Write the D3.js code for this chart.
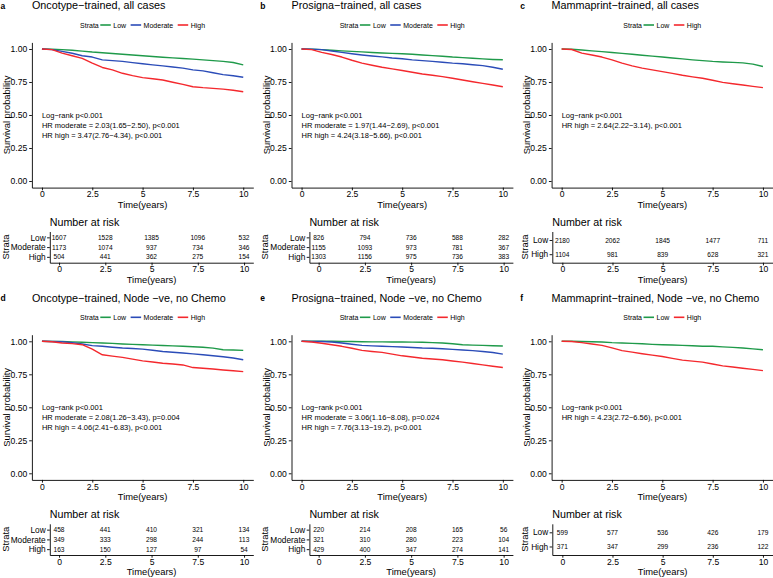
<!DOCTYPE html>
<html><head><meta charset="utf-8">
<script src="https://cdn.jsdelivr.net/npm/d3@7"></script>
<style>
body{margin:0;background:#fff}
svg{display:block}
text{font-family:"Liberation Sans",Arial,Helvetica,sans-serif;fill:#000}
</style>
</head><body>
<svg id="chart" width="773" height="578"></svg>
<script>
// ---------------- DATA ----------------
const times = [0,0.5,1,1.5,2,2.5,3,3.5,4,4.5,5,5.5,6,6.5,7,7.5,8,8.5,9,9.5,10];
const xTicks = [0,2.5,5,7.5,10];
const yTicks = [0,0.25,0.5,0.75,1];

const titles = [
  "Oncotype\u2212trained, all cases",
  "Prosigna\u2212trained, all cases",
  "Mammaprint\u2212trained, all cases",
  "Oncotype\u2212trained, Node \u2212ve, no Chemo",
  "Prosigna\u2212trained, Node \u2212ve, no Chemo",
  "Mammaprint\u2212trained, Node \u2212ve, no Chemo"
];
const letters = ["a","b","c","d","e","f"];

// survival curves
const aLow  = [1,.998,.995,.99,.984,.977,.972,.966,.96,.954,.949,.943,.938,.933,.928,.923,.918,.912,.906,.898,.88];
const aMod  = [1,.995,.982,.968,.949,.939,.918,.912,.906,.897,.888,.88,.872,.864,.855,.842,.834,.82,.806,.797,.786];
const aHigh = [1,.995,.969,.949,.929,.893,.86,.842,.816,.798,.783,.775,.765,.748,.732,.714,.707,.702,.696,.688,.676];

const bLow  = [1,.999,.995,.99,.986,.982,.978,.974,.97,.967,.964,.96,.955,.95,.945,.939,.935,.93,.925,.921,.918];
const bMod  = [1,.999,.995,.985,.974,.964,.955,.947,.94,.932,.926,.918,.912,.906,.9,.893,.888,.881,.874,.862,.847];
const bHigh = [1,.995,.974,.958,.939,.915,.893,.877,.862,.849,.837,.824,.811,.801,.791,.778,.765,.752,.74,.727,.714];

const cLow  = [1,.998,.992,.986,.98,.974,.967,.96,.953,.946,.939,.932,.925,.918,.912,.906,.902,.899,.895,.885,.867];
const cHigh = [1,.996,.969,.955,.939,.918,.893,.872,.855,.842,.829,.815,.801,.789,.778,.763,.747,.737,.727,.717,.707];

const dLow  = [1,.999,.998,.996,.993,.99,.987,.984,.98,.977,.974,.971,.968,.965,.962,.959,.955,.948,.936,.934,.931];
const dMod  = [1,.999,.997,.99,.98,.967,.962,.955,.949,.945,.941,.932,.923,.917,.911,.905,.898,.891,.883,.873,.86];
const dHigh = [1,.997,.987,.982,.974,.94,.898,.888,.878,.865,.852,.843,.834,.828,.821,.801,.796,.79,.783,.777,.77];

const eLow  = [1,1,1,1,.999,.998,.997,.996,.996,.995,.995,.994,.993,.99,.987,.981,.974,.971,.969,.966,.964];
const eMod  = [1,.999,.998,.995,.987,.978,.969,.965,.962,.96,.957,.953,.949,.947,.944,.939,.934,.929,.923,.915,.903];
const eHigh = [1,.995,.985,.974,.962,.947,.931,.923,.916,.903,.89,.881,.872,.866,.86,.851,.842,.832,.821,.811,.801];

const fLow  = [1,1,.999,.997,.995,.99,.987,.984,.981,.977,.974,.972,.969,.966,.963,.962,.958,.954,.949,.943,.936];
const fHigh = [1,.998,.99,.98,.969,.95,.929,.918,.906,.895,.885,.871,.857,.85,.842,.828,.814,.805,.796,.787,.778];

// numbers at risk at xTicks
const riskA = {Low:[1607,1528,1385,1096,532], Moderate:[1173,1074,937,734,346], High:[504,441,362,275,154]};
const riskB = {Low:[826,794,736,588,282],     Moderate:[1155,1093,973,781,367], High:[1303,1156,975,736,383]};
const riskC = {Low:[2180,2062,1845,1477,711], High:[1104,981,839,628,321]};
const riskD = {Low:[458,441,410,321,134],     Moderate:[349,333,298,244,113],   High:[163,150,127,97,54]};
const riskE = {Low:[220,214,208,165,56],      Moderate:[321,310,280,223,104],   High:[429,400,347,274,141]};
const riskF = {Low:[599,577,536,426,179],     High:[371,347,299,236,122]};

const notes = [
  ["Log\u2212rank p<0.001","HR moderate = 2.03(1.65\u22122.50), p<0.001","HR high = 3.47(2.76\u22124.34), p<0.001"],
  ["Log\u2212rank p<0.001","HR moderate = 1.97(1.44\u22122.69), p<0.001","HR high = 4.24(3.18\u22125.66), p<0.001"],
  ["Log\u2212rank p<0.001","HR high = 2.64(2.22\u22123.14), p<0.001"],
  ["Log\u2212rank p<0.001","HR moderate = 2.08(1.26\u22123.43), p=0.004","HR high = 4.06(2.41\u22126.83), p<0.001"],
  ["Log\u2212rank p<0.001","HR moderate = 3.06(1.16\u22128.08), p=0.024","HR high = 7.76(3.13\u221219.2), p<0.001"],
  ["Log\u2212rank p<0.001","HR high = 4.23(2.72\u22126.56), p<0.001"]
];

const colors = {Low:"#1f9a4a", Moderate:"#2b4cb8", High:"#f4282d"};

const panels = [
  {curves:{Low:aLow,Moderate:aMod,High:aHigh}, risk:riskA},
  {curves:{Low:bLow,Moderate:bMod,High:bHigh}, risk:riskB},
  {curves:{Low:cLow,High:cHigh}, risk:riskC},
  {curves:{Low:dLow,Moderate:dMod,High:dHigh}, risk:riskD},
  {curves:{Low:eLow,Moderate:eMod,High:eHigh}, risk:riskE},
  {curves:{Low:fLow,High:fHigh}, risk:riskF}
];

// ---------------- DRAW ----------------
const svg = d3.select("#chart");
const originX = [0, 259.6, 519.7];
const originY = [0, 292.3];

function styleAxis(g, fs){
  g.select(".domain").attr("stroke","#000").attr("stroke-width",0.9);
  g.selectAll(".tick line").attr("stroke","#000").attr("stroke-width",0.9);
  g.selectAll(".tick text").attr("font-size",fs).attr("fill","#000")
    .style("font-family",'"Liberation Sans",Arial,sans-serif');
}

panels.forEach((p,i)=>{
  const col = i%3, row = Math.floor(i/3);
  const g = svg.append("g").attr("transform",`translate(${originX[col]},${originY[row]})`);
  const strata = Object.keys(p.curves);
  const L = 31.9, R = 253.3, T = 42.4, B = 187.6;
  const x = d3.scaleLinear().domain([-0.5,10.5]).range([L,R]);
  const y = d3.scaleLinear().domain([-0.05,1.05]).range([B,T]);

  // letter + title
  g.append("text").attr("x",0.6).attr("y",8.8).attr("font-size",8.5).attr("font-weight","bold").text(letters[i]);
  g.append("text").attr("x",L).attr("y",9.4).attr("font-size",10.8).text(titles[i]);

  // legend
  const leg = g.append("g");
  let cx = 0;
  const fsL = 7;
  const t0 = leg.append("text").attr("x",cx).attr("y",25).attr("dominant-baseline","central").attr("font-size",fsL).text("Strata");
  cx += t0.node().getComputedTextLength() + 1.5;
  strata.forEach((s,k)=>{
    leg.append("line").attr("x1",cx).attr("x2",cx+10.5).attr("y1",25).attr("y2",25)
      .attr("stroke",colors[s]).attr("stroke-width",1.6);
    cx += 13;
    const t = leg.append("text").attr("x",cx).attr("y",25).attr("dominant-baseline","central").attr("font-size",fsL).text(s);
    cx += t.node().getComputedTextLength() + 4.5;
  });
  cx -= 4.5;
  leg.attr("transform",`translate(${(L+R)/2 - cx/2},0)`);

  // axes
  const ay = g.append("g").attr("transform",`translate(${L},0)`)
    .call(d3.axisLeft(y).tickValues(yTicks).tickFormat(d3.format(".2f")).tickSize(2.7).tickSizeOuter(0).tickPadding(2));
  styleAxis(ay, 8.6);
  const ax = g.append("g").attr("transform",`translate(0,${B})`)
    .call(d3.axisBottom(x).tickValues(xTicks).tickFormat(d=>String(d)).tickSize(2.7).tickSizeOuter(0).tickPadding(1));
  styleAxis(ax, 8.6);

  g.append("text").attr("transform",`translate(6.8,${(T+B)/2}) rotate(-90)`).attr("text-anchor","middle")
    .attr("dominant-baseline","central").attr("font-size",9.4).text("Survival probability");
  g.append("text").attr("x",(L+R)/2).attr("y",204.6).attr("text-anchor","middle")
    .attr("dominant-baseline","central").attr("font-size",9.4).text("Time(years)");

  // curves
  const line = d3.line().x((d,k)=>x(times[k])).y(d=>y(d)).curve(d3.curveLinear);
  strata.forEach(s=>{
    g.append("path").attr("d",line(p.curves[s])).attr("fill","none")
      .attr("stroke",colors[s]).attr("stroke-width",1.4).attr("stroke-linejoin","round");
  });

  // annotations
  notes[i].forEach((t,k)=>{
    g.append("text").attr("x",x(0)).attr("y",y(0.5)+k*10.3).attr("dominant-baseline","central")
      .attr("font-size",7.5).text(t);
  });

  // risk table
  const TL = strata.length===3 ? 49.8 : 32.6;
  const xt = d3.scaleLinear().domain([-0.5,10.5]).range([TL,R]);
  const yt = d3.scalePoint().domain(strata).range([231.5,262.7]).padding(0.6);
  g.append("text").attr("x",TL).attr("y",222).attr("dominant-baseline","central").attr("font-size",10.7).text("Number at risk");

  const tay = g.append("g").attr("transform",`translate(${TL},0)`)
    .call(d3.axisLeft(yt).tickSize(2.7).tickSizeOuter(0).tickPadding(1.4));
  styleAxis(tay, 8.3);
  tay.selectAll(".tick text").attr("fill",d=>colors[d]);
  const tax = g.append("g").attr("transform",`translate(0,262.7)`)
    .call(d3.axisBottom(xt).tickValues(xTicks).tickFormat(d=>String(d)).tickSize(2.7).tickSizeOuter(0).tickPadding(1));
  styleAxis(tax, 8.6);

  strata.forEach(s=>{
    p.risk[s].forEach((v,k)=>{
      g.append("text").attr("x",xt(xTicks[k])).attr("y",yt(s)).attr("text-anchor","middle")
        .attr("dominant-baseline","central").attr("font-size",6.6).text(v);
    });
  });
  g.append("text").attr("transform",`translate(5,247) rotate(-90)`).attr("text-anchor","middle")
    .attr("dominant-baseline","central").attr("font-size",9.4).text("Strata");
  g.append("text").attr("x",(TL+R)/2).attr("y",279.5).attr("text-anchor","middle")
    .attr("dominant-baseline","central").attr("font-size",9.4).text("Time(years)");
});
</script>
</body></html>
